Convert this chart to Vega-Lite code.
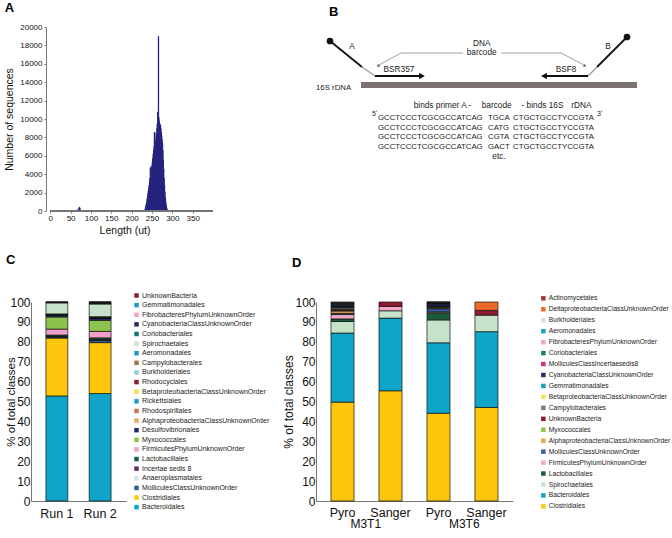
{
  "$schema": "https://vega.github.io/schema/vega-lite/v6.json",
  "padding": {"left": 4, "top": 2, "right": 0, "bottom": 0},
  "config": {
    "font": "Liberation Sans",
    "view": {"stroke": null},
    "axis": {"grid": false, "domainColor": "#777", "tickColor": "#777", "labelColor": "#111", "titleColor": "#111", "titleFontWeight": "normal", "labelOverlap": false},
    "title": {"fontSize": 13, "fontWeight": "bold", "anchor": "start", "frame": "bounds", "color": "#000"}
  },
  "resolve": {"scale": {"color": "independent"}},
  "columns": 2,
  "align": {"row": "each", "column": "none"},
  "spacing": {"row": 18, "column": 12},
  "concat": [
    {
      "title": {"text": "A", "offset": 8},
      "width": 187,
      "height": 184,
      "data": {"values": [
        {"len": 60, "n": 40}, {"len": 62, "n": 60}, {"len": 65, "n": 90}, {"len": 68, "n": 150},
        {"len": 70, "n": 250}, {"len": 71, "n": 350}, {"len": 72, "n": 450}, {"len": 73, "n": 300},
        {"len": 74, "n": 150}, {"len": 76, "n": 60}, {"len": 80, "n": 30},
        {"len": 232, "n": 100}, {"len": 233, "n": 200}, {"len": 234, "n": 400}, {"len": 235, "n": 600},
        {"len": 236, "n": 800}, {"len": 237, "n": 1000}, {"len": 238, "n": 1300}, {"len": 239, "n": 1600},
        {"len": 240, "n": 1900}, {"len": 241, "n": 2200}, {"len": 242, "n": 2500}, {"len": 243, "n": 2800},
        {"len": 244, "n": 3200}, {"len": 245, "n": 3600}, {"len": 246, "n": 4700}, {"len": 247, "n": 4800},
        {"len": 248, "n": 4200}, {"len": 249, "n": 4600}, {"len": 250, "n": 5000}, {"len": 251, "n": 5400},
        {"len": 252, "n": 5800}, {"len": 253, "n": 6200}, {"len": 254, "n": 6600}, {"len": 255, "n": 7000},
        {"len": 256, "n": 8600}, {"len": 257, "n": 8500}, {"len": 258, "n": 7200}, {"len": 259, "n": 7600},
        {"len": 260, "n": 8000}, {"len": 261, "n": 8500}, {"len": 262, "n": 9000}, {"len": 263, "n": 9500},
        {"len": 264, "n": 10800}, {"len": 265, "n": 10500}, {"len": 266, "n": 19000}, {"len": 267, "n": 10200},
        {"len": 268, "n": 9800}, {"len": 269, "n": 9500}, {"len": 270, "n": 9200}, {"len": 271, "n": 9400},
        {"len": 272, "n": 9000}, {"len": 273, "n": 8600}, {"len": 274, "n": 8200}, {"len": 275, "n": 7800},
        {"len": 276, "n": 7400}, {"len": 277, "n": 6600}, {"len": 278, "n": 5600}, {"len": 279, "n": 4600},
        {"len": 280, "n": 3600}, {"len": 281, "n": 2800}, {"len": 282, "n": 2100}, {"len": 283, "n": 1500},
        {"len": 284, "n": 1000}, {"len": 285, "n": 700}, {"len": 286, "n": 400}, {"len": 287, "n": 250},
        {"len": 288, "n": 120}, {"len": 289, "n": 50}
      ]},
      "encoding": {
        "x": {"field": "len", "type": "quantitative", "scale": {"domain": [-35, 400], "nice": false},
              "axis": {"values": [0, 50, 100, 150, 200, 250, 300, 350], "domain": false, "title": "Length (ut)", "labelFontSize": 8, "titleFontSize": 10.5, "tickSize": 2, "labelPadding": 1, "titlePadding": 3}},
        "y": {"field": "n", "type": "quantitative", "scale": {"domain": [0, 20000], "nice": false},
              "axis": {"values": [0, 2000, 4000, 6000, 8000, 10000, 12000, 14000, 16000, 18000, 20000], "format": "d", "offset": -15, "title": "Number of sequences", "labelFontSize": 8, "titleFontSize": 10.5, "tickSize": 2, "labelPadding": 2, "titlePadding": 5}}
      },
      "layer": [
        {
          "mark": {"type": "bar", "size": 1.3, "color": "#25257f"}
        },
        {
          "mark": {"type": "rule", "color": "#777", "strokeWidth": 1},
          "encoding": {
            "x": {"datum": 0, "type": "quantitative"},
            "x2": {"datum": 400},
            "y": {"datum": 0, "type": "quantitative"}
          }
        }
      ]
    },
    {
      "title": {"text": "B", "offset": 8, "dx": 47},
      "width": 389,
      "height": 140,
      "encoding": {
        "x": {"field": "x", "type": "quantitative", "scale": {"domain": [0, 389], "nice": false}, "axis": null},
        "y": {"field": "y", "type": "quantitative", "scale": {"domain": [0, 140], "nice": false, "reverse": true}, "axis": null}
      },
      "layer": [
        {
          "data": {"values": [{"x": 79, "x2": 355, "y": 55, "y2": 61}]},
          "mark": {"type": "rect", "color": "#7b7171"},
          "encoding": {"x2": {"field": "x2"}, "y2": {"field": "y2"}}
        },
        {
          "data": {"values": [{"x": 48, "y": 14, "x2": 80, "y2": 40}, {"x": 345, "y": 10, "x2": 315, "y2": 40}]},
          "mark": {"type": "rule", "color": "#111", "strokeWidth": 1.8},
          "encoding": {"x2": {"field": "x2"}, "y2": {"field": "y2"}}
        },
        {
          "data": {"values": [{"x": 80, "y": 40, "x2": 93, "y2": 49}, {"x": 315, "y": 40, "x2": 306, "y2": 49}]},
          "mark": {"type": "rule", "color": "#a0a0a0", "strokeWidth": 1.5},
          "encoding": {"x2": {"field": "x2"}, "y2": {"field": "y2"}}
        },
        {
          "data": {"values": [{"x": 93, "y": 49, "x2": 138, "y2": 49}, {"x": 306, "y": 49, "x2": 264, "y2": 49}]},
          "mark": {"type": "rule", "color": "#111", "strokeWidth": 2},
          "encoding": {"x2": {"field": "x2"}, "y2": {"field": "y2"}}
        },
        {
          "data": {"values": [
            {"x": 181, "y": 26, "x2": 119, "y2": 26}, {"x": 119, "y": 26, "x2": 97, "y2": 38},
            {"x": 219, "y": 26, "x2": 279, "y2": 26}, {"x": 279, "y": 26, "x2": 302, "y2": 38}
          ]},
          "mark": {"type": "rule", "color": "#888", "strokeWidth": 0.8},
          "encoding": {"x2": {"field": "x2"}, "y2": {"field": "y2"}}
        },
        {
          "data": {"values": [{"x": 48, "y": 14}, {"x": 345, "y": 10}]},
          "mark": {"type": "point", "filled": true, "color": "#111", "size": 45, "opacity": 1}
        },
        {
          "data": {"values": [{"x": 140, "y": 49}]},
          "mark": {"type": "point", "shape": "triangle-right", "filled": true, "color": "#111", "size": 45, "opacity": 1}
        },
        {
          "data": {"values": [{"x": 262, "y": 49}]},
          "mark": {"type": "point", "shape": "triangle-left", "filled": true, "color": "#111", "size": 45, "opacity": 1}
        },
        {
          "data": {"values": [{"x": 96, "y": 39}]},
          "mark": {"type": "point", "shape": "triangle-right", "angle": 152, "filled": true, "color": "#666", "size": 12, "opacity": 1}
        },
        {
          "data": {"values": [{"x": 303, "y": 39}]},
          "mark": {"type": "point", "shape": "triangle-right", "angle": 28, "filled": true, "color": "#666", "size": 12, "opacity": 1}
        },
        {
          "data": {"values": [
            {"x": 70, "y": 20, "t": "A"}, {"x": 326, "y": 20, "t": "B"},
            {"x": 117, "y": 43, "t": "BSR357"}, {"x": 284, "y": 43, "t": "BSF8"},
            {"x": 199.7, "y": 17.3, "t": "DNA"}, {"x": 199.7, "y": 26, "t": "barcode"},
            {"x": 160.5, "y": 79, "t": "binds primer A -"}, {"x": 214.7, "y": 79, "t": "barcode"},
            {"x": 260.5, "y": 79, "t": "- binds 16S"}, {"x": 299.5, "y": 79, "t": "rDNA"},
            {"x": 217, "y": 130, "t": "etc."}
          ]},
          "mark": {"type": "text", "fontSize": 8.3, "color": "#222", "baseline": "middle", "align": "center"},
          "encoding": {"text": {"field": "t"}}
        },
        {
          "data": {"values": [
            {"x": 34, "y": 61, "t": "16S rDNA"},
            {"x": 96, "y": 91, "t": "GCCTCCCTCGCGCCATCAG"}, {"x": 206, "y": 91, "t": "TGCA"}, {"x": 231, "y": 91, "t": "CTGCTGCCTYCCGTA"},
            {"x": 96, "y": 101, "t": "GCCTCCCTCGCGCCATCAG"}, {"x": 206, "y": 101, "t": "CATG"}, {"x": 231, "y": 101, "t": "CTGCTGCCTYCCGTA"},
            {"x": 96, "y": 110, "t": "GCCTCCCTCGCGCCATCAG"}, {"x": 206, "y": 110, "t": "CGTA"}, {"x": 231, "y": 110, "t": "CTGCTGCCTYCCGTA"},
            {"x": 96, "y": 120, "t": "GCCTCCCTCGCGCCATCAG"}, {"x": 206, "y": 120, "t": "GACT"}, {"x": 231, "y": 120, "t": "CTGCTGCCTYCCGTA"}
          ]},
          "mark": {"type": "text", "fontSize": 7.8, "color": "#222", "baseline": "middle", "align": "left"},
          "encoding": {"text": {"field": "t"}}
        },
        {
          "data": {"values": [{"x": 90, "y": 87, "t": "5ʹ"}, {"x": 315, "y": 87, "t": "3ʹ"}]},
          "mark": {"type": "text", "fontSize": 7, "color": "#222", "baseline": "middle", "align": "left"},
          "encoding": {"text": {"field": "t"}}
        }
      ]
    },
    {
      "title": {"text": "C", "offset": 25},
      "width": 95,
      "height": 199,
      "data": {"values": [
        {"run": "Run 1", "taxon": "Bacteroidales", "pct": 52.8},
        {"run": "Run 1", "taxon": "Clostridiales", "pct": 29.1},
        {"run": "Run 1", "taxon": "MolliculesClassUnknownOrder", "pct": 0.6},
        {"run": "Run 1", "taxon": "Anaeroplasmatales", "pct": 0.1},
        {"run": "Run 1", "taxon": "Incertae sedis 8", "pct": 0.1},
        {"run": "Run 1", "taxon": "Lactobacillales", "pct": 0.7},
        {"run": "Run 1", "taxon": "FirmicutesPhylumUnknownOrder", "pct": 3.0},
        {"run": "Run 1", "taxon": "Myxococcales", "pct": 6.1},
        {"run": "Run 1", "taxon": "Desulfovibrionales", "pct": 1.0},
        {"run": "Run 1", "taxon": "AlphaproteobacteriaClassUnknownOrder", "pct": 0.1},
        {"run": "Run 1", "taxon": "Rhodospirillales", "pct": 0.05},
        {"run": "Run 1", "taxon": "Rickettsiales", "pct": 0.05},
        {"run": "Run 1", "taxon": "BetaproteobacteriaClassUnknownOrder", "pct": 0.05},
        {"run": "Run 1", "taxon": "Rhodocyclales", "pct": 0.05},
        {"run": "Run 1", "taxon": "Burkholderiales", "pct": 0.05},
        {"run": "Run 1", "taxon": "Campylobacterales", "pct": 0.1},
        {"run": "Run 1", "taxon": "Aeromonadales", "pct": 0.05},
        {"run": "Run 1", "taxon": "Spirochaetales", "pct": 5.6},
        {"run": "Run 1", "taxon": "Coriobacteriales", "pct": 0.1},
        {"run": "Run 1", "taxon": "CyanobacteriaClassUnknownOrder", "pct": 0.1},
        {"run": "Run 1", "taxon": "FibrobacteresPhylumUnknownOrder", "pct": 0.05},
        {"run": "Run 1", "taxon": "Gemmatimonadales", "pct": 0.05},
        {"run": "Run 1", "taxon": "UnknownBacteria", "pct": 0.1},
        {"run": "Run 2", "taxon": "Bacteroidales", "pct": 54.0},
        {"run": "Run 2", "taxon": "Clostridiales", "pct": 25.6},
        {"run": "Run 2", "taxon": "MolliculesClassUnknownOrder", "pct": 1.2},
        {"run": "Run 2", "taxon": "Anaeroplasmatales", "pct": 0.1},
        {"run": "Run 2", "taxon": "Incertae sedis 8", "pct": 0.2},
        {"run": "Run 2", "taxon": "Lactobacillales", "pct": 0.9},
        {"run": "Run 2", "taxon": "FirmicutesPhylumUnknownOrder", "pct": 3.2},
        {"run": "Run 2", "taxon": "Myxococcales", "pct": 5.6},
        {"run": "Run 2", "taxon": "Desulfovibrionales", "pct": 1.1},
        {"run": "Run 2", "taxon": "AlphaproteobacteriaClassUnknownOrder", "pct": 0.1},
        {"run": "Run 2", "taxon": "Rhodospirillales", "pct": 0.1},
        {"run": "Run 2", "taxon": "Rickettsiales", "pct": 0.05},
        {"run": "Run 2", "taxon": "BetaproteobacteriaClassUnknownOrder", "pct": 0.05},
        {"run": "Run 2", "taxon": "Rhodocyclales", "pct": 0.1},
        {"run": "Run 2", "taxon": "Burkholderiales", "pct": 0.1},
        {"run": "Run 2", "taxon": "Campylobacterales", "pct": 0.1},
        {"run": "Run 2", "taxon": "Aeromonadales", "pct": 0.1},
        {"run": "Run 2", "taxon": "Spirochaetales", "pct": 6.4},
        {"run": "Run 2", "taxon": "Coriobacteriales", "pct": 0.3},
        {"run": "Run 2", "taxon": "CyanobacteriaClassUnknownOrder", "pct": 0.3},
        {"run": "Run 2", "taxon": "FibrobacteresPhylumUnknownOrder", "pct": 0.2},
        {"run": "Run 2", "taxon": "Gemmatimonadales", "pct": 0.1},
        {"run": "Run 2", "taxon": "UnknownBacteria", "pct": 0.2}
      ]},
      "transform": [
        {"calculate": "indexof(['Bacteroidales','Clostridiales','MolliculesClassUnknownOrder','Anaeroplasmatales','Incertae sedis 8','Lactobacillales','FirmicutesPhylumUnknownOrder','Myxococcales','Desulfovibrionales','AlphaproteobacteriaClassUnknownOrder','Rhodospirillales','Rickettsiales','BetaproteobacteriaClassUnknownOrder','Rhodocyclales','Burkholderiales','Campylobacterales','Aeromonadales','Spirochaetales','Coriobacteriales','CyanobacteriaClassUnknownOrder','FibrobacteresPhylumUnknownOrder','Gemmatimonadales','UnknownBacteria'], datum.taxon)", "as": "ord"}
      ],
      "mark": {"type": "bar", "stroke": "#111", "strokeWidth": 0.7},
      "encoding": {
        "x": {"field": "run", "type": "nominal", "scale": {"paddingInner": 0.494, "paddingOuter": 0.345},
              "axis": {"title": null, "labelAngle": 0, "labelFontSize": 12.5, "ticks": false, "labelPadding": 6}},
        "y": {"field": "pct", "type": "quantitative", "stack": "zero", "scale": {"domain": [0, 100], "nice": false},
              "axis": {"values": [0, 10, 20, 30, 40, 50, 60, 70, 80, 90, 100], "title": "% of total classes", "labelFontSize": 12, "titleFontSize": 11.5, "tickSize": 0, "labelPadding": 1, "titlePadding": -7}},
        "color": {"field": "taxon", "type": "nominal",
          "scale": {
            "domain": ["UnknownBacteria", "Gemmatimonadales", "FibrobacteresPhylumUnknownOrder", "CyanobacteriaClassUnknownOrder", "Coriobacteriales", "Spirochaetales", "Aeromonadales", "Campylobacterales", "Burkholderiales", "Rhodocyclales", "BetaproteobacteriaClassUnknownOrder", "Rickettsiales", "Rhodospirillales", "AlphaproteobacteriaClassUnknownOrder", "Desulfovibrionales", "Myxococcales", "FirmicutesPhylumUnknownOrder", "Lactobacillales", "Incertae sedis 8", "Anaeroplasmatales", "MolliculesClassUnknownOrder", "Clostridiales", "Bacteroidales"],
            "range": ["#8e1c2c", "#17a2c2", "#f0a3c4", "#2b2d5e", "#137a70", "#c6e2c8", "#1aa0c0", "#9b7452", "#93cadb", "#8a1e2a", "#f2e446", "#17a0bc", "#c9784e", "#e2aa62", "#1f2b6e", "#8cc34c", "#f0a0c8", "#1d5b3c", "#6a2d5e", "#cfe6f0", "#2e5f9e", "#fdc60a", "#0ea5c8"]
          },
          "legend": {"title": null, "orient": "none", "legendX": 102, "legendY": -10, "padding": 0, "labelFontSize": 7, "labelColor": "#222", "symbolType": "square", "symbolSize": 20, "symbolStrokeWidth": 0, "rowPadding": 1.62, "labelOffset": 2, "labelLimit": 300}
        },
        "order": {"field": "ord", "type": "quantitative"}
      }
    },
    {
      "title": {"text": "D", "offset": 25, "dx": 9},
      "width": 197,
      "height": 199,
      "data": {"values": [
        {"s": "M3T1 Pyro", "g": "M3T1", "taxon": "Clostridiales", "pct": 49.7},
        {"s": "M3T1 Pyro", "g": "M3T1", "taxon": "Bacteroidales", "pct": 34.7},
        {"s": "M3T1 Pyro", "g": "M3T1", "taxon": "Spirochaetales", "pct": 5.8},
        {"s": "M3T1 Pyro", "g": "M3T1", "taxon": "Lactobacillales", "pct": 1.3},
        {"s": "M3T1 Pyro", "g": "M3T1", "taxon": "FirmicutesPhylumUnknownOrder", "pct": 2.2},
        {"s": "M3T1 Pyro", "g": "M3T1", "taxon": "MolliculesClassUnknownOrder", "pct": 0.6},
        {"s": "M3T1 Pyro", "g": "M3T1", "taxon": "AlphaproteobacteriaClassUnknownOrder", "pct": 1.2},
        {"s": "M3T1 Pyro", "g": "M3T1", "taxon": "Myxococcales", "pct": 0.3},
        {"s": "M3T1 Pyro", "g": "M3T1", "taxon": "UnknownBacteria", "pct": 0.5},
        {"s": "M3T1 Pyro", "g": "M3T1", "taxon": "Campylobacterales", "pct": 0.8},
        {"s": "M3T1 Pyro", "g": "M3T1", "taxon": "BetaproteobacteriaClassUnknownOrder", "pct": 0.2},
        {"s": "M3T1 Pyro", "g": "M3T1", "taxon": "Gemmatimonadales", "pct": 0.3},
        {"s": "M3T1 Pyro", "g": "M3T1", "taxon": "CyanobacteriaClassUnknownOrder", "pct": 0.4},
        {"s": "M3T1 Pyro", "g": "M3T1", "taxon": "MolliculesClassIncertaesedis8", "pct": 0.3},
        {"s": "M3T1 Pyro", "g": "M3T1", "taxon": "Coriobacteriales", "pct": 0.4},
        {"s": "M3T1 Pyro", "g": "M3T1", "taxon": "FibrobacteresPhylumUnknownOrder", "pct": 0.3},
        {"s": "M3T1 Pyro", "g": "M3T1", "taxon": "Aeromonadales", "pct": 0.3},
        {"s": "M3T1 Pyro", "g": "M3T1", "taxon": "Burkholderiales", "pct": 0.2},
        {"s": "M3T1 Pyro", "g": "M3T1", "taxon": "DeltaproteobacteriaClassUnknownOrder", "pct": 0.2},
        {"s": "M3T1 Pyro", "g": "M3T1", "taxon": "Actinomycetales", "pct": 0.3},
        {"s": "M3T1 Sanger", "g": "M3T1", "taxon": "Clostridiales", "pct": 55.4},
        {"s": "M3T1 Sanger", "g": "M3T1", "taxon": "Bacteroidales", "pct": 36.5},
        {"s": "M3T1 Sanger", "g": "M3T1", "taxon": "Spirochaetales", "pct": 3.7},
        {"s": "M3T1 Sanger", "g": "M3T1", "taxon": "FirmicutesPhylumUnknownOrder", "pct": 2.2},
        {"s": "M3T1 Sanger", "g": "M3T1", "taxon": "UnknownBacteria", "pct": 2.2},
        {"s": "M3T6 Pyro", "g": "M3T6", "taxon": "Clostridiales", "pct": 44.1},
        {"s": "M3T6 Pyro", "g": "M3T6", "taxon": "Bacteroidales", "pct": 35.4},
        {"s": "M3T6 Pyro", "g": "M3T6", "taxon": "Spirochaetales", "pct": 11.5},
        {"s": "M3T6 Pyro", "g": "M3T6", "taxon": "Lactobacillales", "pct": 3.6},
        {"s": "M3T6 Pyro", "g": "M3T6", "taxon": "FirmicutesPhylumUnknownOrder", "pct": 0.5},
        {"s": "M3T6 Pyro", "g": "M3T6", "taxon": "MolliculesClassUnknownOrder", "pct": 1.5},
        {"s": "M3T6 Pyro", "g": "M3T6", "taxon": "AlphaproteobacteriaClassUnknownOrder", "pct": 0.3},
        {"s": "M3T6 Pyro", "g": "M3T6", "taxon": "Myxococcales", "pct": 0.5},
        {"s": "M3T6 Pyro", "g": "M3T6", "taxon": "UnknownBacteria", "pct": 0.2},
        {"s": "M3T6 Pyro", "g": "M3T6", "taxon": "Campylobacterales", "pct": 0.2},
        {"s": "M3T6 Pyro", "g": "M3T6", "taxon": "BetaproteobacteriaClassUnknownOrder", "pct": 0.1},
        {"s": "M3T6 Pyro", "g": "M3T6", "taxon": "Gemmatimonadales", "pct": 0.2},
        {"s": "M3T6 Pyro", "g": "M3T6", "taxon": "CyanobacteriaClassUnknownOrder", "pct": 1.0},
        {"s": "M3T6 Pyro", "g": "M3T6", "taxon": "MolliculesClassIncertaesedis8", "pct": 0.1},
        {"s": "M3T6 Pyro", "g": "M3T6", "taxon": "Coriobacteriales", "pct": 0.2},
        {"s": "M3T6 Pyro", "g": "M3T6", "taxon": "FibrobacteresPhylumUnknownOrder", "pct": 0.1},
        {"s": "M3T6 Pyro", "g": "M3T6", "taxon": "Aeromonadales", "pct": 0.1},
        {"s": "M3T6 Pyro", "g": "M3T6", "taxon": "Burkholderiales", "pct": 0.2},
        {"s": "M3T6 Pyro", "g": "M3T6", "taxon": "DeltaproteobacteriaClassUnknownOrder", "pct": 0.1},
        {"s": "M3T6 Pyro", "g": "M3T6", "taxon": "Actinomycetales", "pct": 0.1},
        {"s": "M3T6 Sanger", "g": "M3T6", "taxon": "Clostridiales", "pct": 47.0},
        {"s": "M3T6 Sanger", "g": "M3T6", "taxon": "Bacteroidales", "pct": 38.1},
        {"s": "M3T6 Sanger", "g": "M3T6", "taxon": "Spirochaetales", "pct": 8.3},
        {"s": "M3T6 Sanger", "g": "M3T6", "taxon": "UnknownBacteria", "pct": 2.4},
        {"s": "M3T6 Sanger", "g": "M3T6", "taxon": "DeltaproteobacteriaClassUnknownOrder", "pct": 4.2}
      ]},
      "resolve": {"scale": {"x": "independent"}, "axis": {"x": "independent"}},
      "layer": [
        {
          "transform": [
            {"calculate": "indexof(['Clostridiales','Bacteroidales','Spirochaetales','Lactobacillales','FirmicutesPhylumUnknownOrder','MolliculesClassUnknownOrder','AlphaproteobacteriaClassUnknownOrder','Myxococcales','UnknownBacteria','Campylobacterales','BetaproteobacteriaClassUnknownOrder','Gemmatimonadales','CyanobacteriaClassUnknownOrder','MolliculesClassIncertaesedis8','Coriobacteriales','FibrobacteresPhylumUnknownOrder','Aeromonadales','Burkholderiales','DeltaproteobacteriaClassUnknownOrder','Actinomycetales'], datum.taxon)", "as": "ord"}
          ],
          "mark": {"type": "bar", "stroke": "#111", "strokeWidth": 0.7},
          "encoding": {
            "x": {"field": "s", "type": "nominal", "scale": {"paddingInner": 0.52, "paddingOuter": 0.3125},
                  "axis": {"title": null, "labelAngle": 0, "labelFontSize": 12.5, "ticks": false, "labelPadding": 5, "labelExpr": "split(datum.label, ' ')[1]", "orient": "bottom"}},
            "y": {"field": "pct", "type": "quantitative", "stack": "zero", "scale": {"domain": [0, 100], "nice": false},
                  "axis": {"values": [0, 10, 20, 30, 40, 50, 60, 70, 80, 90, 100], "title": "% of total classes", "labelFontSize": 12, "titleFontSize": 12, "tickSize": 0, "labelPadding": 1, "titlePadding": -1}},
            "color": {"field": "taxon", "type": "nominal",
              "scale": {
                "domain": ["Actinomycetales", "DeltaproteobacteriaClassUnknownOrder", "Burkholderiales", "Aeromonadales", "FibrobacteresPhylumUnknownOrder", "Coriobacteriales", "MolliculesClassIncertaesedis8", "CyanobacteriaClassUnknownOrder", "Gemmatimonadales", "BetaproteobacteriaClassUnknownOrder", "Campylobacterales", "UnknownBacteria", "Myxococcales", "AlphaproteobacteriaClassUnknownOrder", "MolliculesClassUnknownOrder", "FirmicutesPhylumUnknownOrder", "Lactobacillales", "Spirochaetales", "Bacteroidales", "Clostridiales"],
                "range": ["#a0363a", "#ee6a2c", "#cfe0ef", "#1aa3c4", "#f2a6c6", "#148474", "#d2307a", "#2b2d6b", "#17a2c2", "#f3e35a", "#8c7b6d", "#8e1c2c", "#8dc450", "#e8a44e", "#3b5ea8", "#f2a8c9", "#1d5b3c", "#c6e2c8", "#0ea5c8", "#fdc60a"]
              },
              "legend": {"title": null, "orient": "none", "legendX": 224, "legendY": -7, "padding": 0, "labelFontSize": 6.7, "labelColor": "#222", "symbolType": "square", "symbolSize": 20, "symbolStrokeWidth": 0, "rowPadding": 2.95, "labelOffset": 2, "labelLimit": 300}
            },
            "order": {"field": "ord", "type": "quantitative"}
          }
        },
        {
          "mark": {"type": "tick", "opacity": 0},
          "encoding": {
            "x": {"field": "g", "type": "nominal", "scale": {"type": "point", "padding": 0.5},
                  "axis": {"title": null, "orient": "bottom", "labelAngle": 0, "labelFontSize": 12, "domain": false, "ticks": false, "labelPadding": 17}}
          }
        }
      ]
    }
  ]
}
